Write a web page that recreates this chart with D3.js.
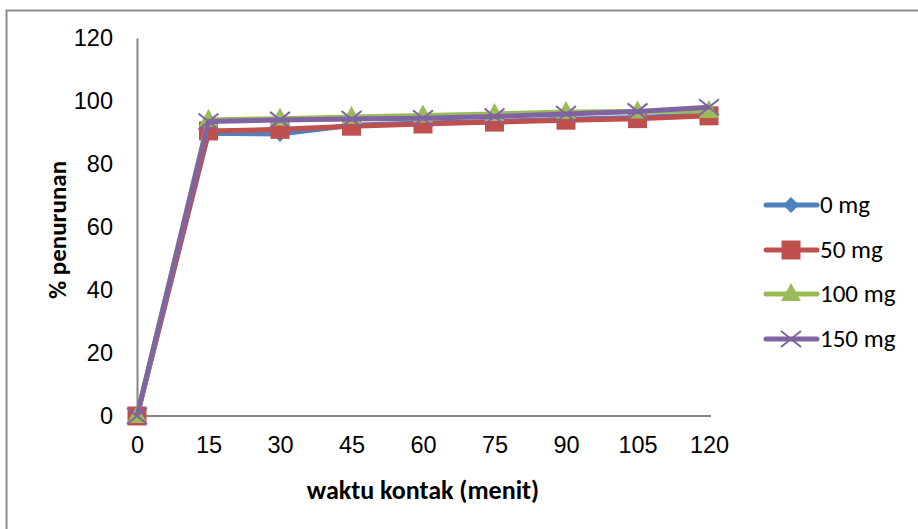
<!DOCTYPE html>
<html><head><meta charset="utf-8">
<script src="https://cdn.jsdelivr.net/npm/d3@7"></script>
<style>body{margin:0;background:#fff;} svg{display:block;font-family:Carlito,Calibri,Lato,"Open Sans",sans-serif;}</style>
</head><body>
<svg id="c" width="918" height="529"></svg>
<script>
const times = [0, 15, 30, 45, 60, 75, 90, 105, 120];
const yTicks = [0, 20, 40, 60, 80, 100, 120];
const seriesNames = ["0 mg", "50 mg", "100 mg", "150 mg"];
const s0 = [0, 89.8, 89.5, 92.3, 93.0, 93.5, 94.2, 94.8, 95.7];
const s50 = [0, 90.5, 91.0, 92.0, 92.7, 93.3, 93.9, 94.4, 95.3];
const s100 = [0, 94.0, 94.4, 94.9, 95.4, 95.9, 96.5, 96.7, 96.8];
const s150 = [0, 93.5, 94.0, 94.3, 94.5, 95.1, 95.9, 96.7, 98.0];
const colors = ["#4F81BD", "#C0504D", "#9BBB59", "#8064A2"];
const markers = ["diamond", "square", "triangle", "x"];
const allSeries = [s0, s50, s100, s150];

const svg = d3.select("#c");
svg.append("rect").attr("x",6.5).attr("y",10.5).attr("width",930).attr("height",540)
  .attr("fill","#fff").attr("stroke","#8c8c8c").attr("stroke-width",2);

const x = d3.scaleLinear().domain([0,120]).range([137,709]);
const y = d3.scaleLinear().domain([0,120]).range([416,38]);

const FS = 23.5;
// axes
const yAxis = d3.axisLeft(y).tickValues(yTicks).tickSize(0).tickPadding(24);
const gy = svg.append("g").attr("transform","translate(137,0)").call(yAxis);
gy.select(".domain").attr("stroke","#868686").attr("stroke-width",2);
gy.selectAll("text").attr("font-size",FS).attr("fill","#000").attr("font-family","inherit");

const xAxis = d3.axisBottom(x).tickValues(times).tickSize(0).tickPadding(20);
const gx = svg.append("g").attr("transform","translate(0,416)").call(xAxis);
gx.select(".domain").attr("stroke","#868686").attr("stroke-width",2).attr("d","M137,0H711");
gx.selectAll("text").attr("font-size",FS).attr("fill","#000").attr("font-family","inherit");

svg.append("text").attr("x",423).attr("y",499).attr("text-anchor","middle")
  .attr("font-size",26).attr("font-weight","bold").text("waktu kontak (menit)");
svg.append("text").attr("transform","translate(66,230) rotate(-90)").attr("text-anchor","middle")
  .attr("font-size",25).attr("font-weight","bold").text("% penurunan");

function drawMarker(g, type, cx, cy, color){
  if(type==="diamond"){
    g.append("path").attr("d",`M${cx},${cy-8}L${cx+8},${cy}L${cx},${cy+8}L${cx-8},${cy}Z`).attr("fill",color);
  } else if(type==="square"){
    g.append("rect").attr("x",cx-9.5).attr("y",cy-9.5).attr("width",19).attr("height",19).attr("fill",color);
  } else if(type==="triangle"){
    g.append("path").attr("d",`M${cx},${cy-11}L${cx+10},${cy+7}L${cx-10},${cy+7}Z`).attr("fill",color);
  } else {
    g.append("path").attr("d",`M${cx-10},${cy-8}L${cx+10},${cy+8}M${cx-10},${cy+8}L${cx+10},${cy-8}`)
      .attr("stroke",color).attr("stroke-width",2);
  }
}

const line = d3.line().x((d,i)=>x(times[i])).y(d=>y(d));
allSeries.forEach((s,k)=>{
  const g = svg.append("g");
  g.append("path").datum(s).attr("d",line).attr("fill","none").attr("stroke",colors[k])
    .attr("stroke-width",5).attr("stroke-linejoin","round");
  s.forEach((v,i)=>drawMarker(g, markers[k], x(times[i]), y(v), colors[k]));
});

// legend
const legY = [205, 250, 294, 339];
seriesNames.forEach((n,k)=>{
  const g = svg.append("g");
  g.append("line").attr("x1",766).attr("x2",817).attr("y1",legY[k]).attr("y2",legY[k])
    .attr("stroke",colors[k]).attr("stroke-width",5).attr("stroke-linecap","round");
  drawMarker(g, markers[k], 791, legY[k], colors[k]);
  g.append("text").attr("x",820).attr("y",legY[k]+8).attr("font-size",25).text(n);
});
</script>
</body></html>
